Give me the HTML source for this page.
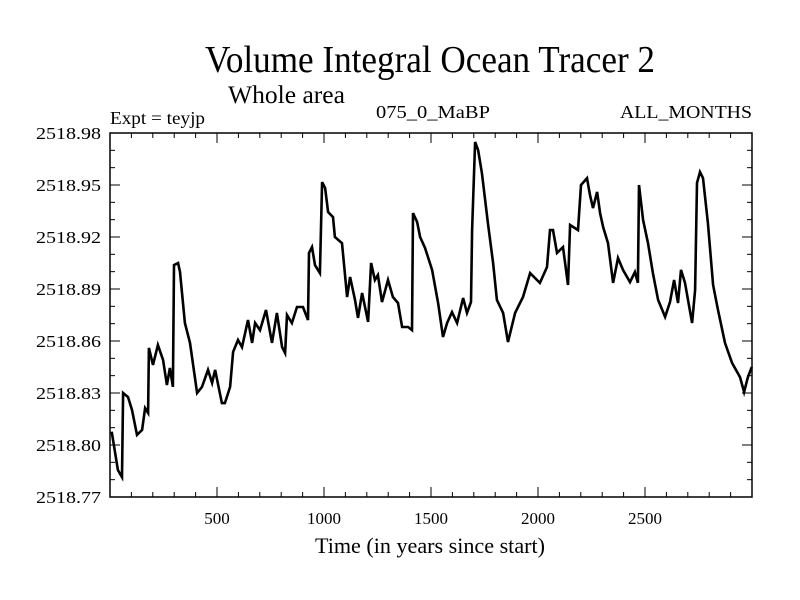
<!DOCTYPE html>
<html><head><meta charset="utf-8"><style>
html,body{margin:0;padding:0;background:#fff;}
svg{display:block;font-family:"Liberation Serif",serif;}
</style></head><body>
<svg id="chart" width="800" height="600">
<rect x="0" y="0" width="800" height="600" fill="#fff"/>
<text x="430" y="72" font-size="38" text-anchor="middle" textLength="450" lengthAdjust="spacingAndGlyphs">Volume Integral Ocean Tracer 2</text>
<text x="228" y="103" font-size="25" textLength="117" lengthAdjust="spacingAndGlyphs">Whole area</text>
<text x="110" y="124" font-size="18" textLength="95" lengthAdjust="spacingAndGlyphs">Expt = teyjp</text>
<text x="376" y="118" font-size="18" textLength="114" lengthAdjust="spacingAndGlyphs">075_0_MaBP</text>
<text x="752" y="118" font-size="18" text-anchor="end" textLength="132" lengthAdjust="spacingAndGlyphs">ALL_MONTHS</text>
<text x="430" y="553" font-size="22" text-anchor="middle" textLength="230" lengthAdjust="spacingAndGlyphs">Time (in years since start)</text>
<g id="axes"></g>
<g id="series"></g>
</svg>
<script>
const years = [8,37,56,61,84,103,126,150,164,178,182,201,224,248,266,280,294,299,318,327,350,374,407,430,458,477,491,523,537,561,575,598,617,645,664,678,701,729,757,780,804,818,827,850,874,902,925,930,944,958,981,991,1005,1019,1042,1051,1084,1108,1122,1145,1159,1178,1206,1220,1238,1252,1271,1299,1322,1346,1365,1393,1411,1416,1435,1449,1472,1505,1533,1556,1575,1598,1622,1650,1668,1687,1692,1706,1720,1738,1766,1790,1808,1837,1860,1893,1930,1963,2009,2042,2056,2070,2089,2117,2140,2150,2187,2201,2229,2243,2257,2276,2290,2304,2327,2351,2374,2397,2430,2453,2467,2472,2491,2514,2537,2561,2594,2617,2636,2654,2668,2687,2720,2734,2743,2757,2771,2794,2818,2841,2874,2907,2944,2963,2981,2999];
const tracer = [2518.8077,2518.7856,2518.7815,2518.8300,2518.8277,2518.8202,2518.8058,2518.8087,2518.8213,2518.8185,2518.8560,2518.8462,2518.8577,2518.8490,2518.8346,2518.8444,2518.8335,2518.9038,2518.9050,2518.8998,2518.8704,2518.8589,2518.8300,2518.8335,2518.8433,2518.8358,2518.8433,2518.8242,2518.8242,2518.8335,2518.8537,2518.8606,2518.8565,2518.8721,2518.8589,2518.8704,2518.8663,2518.8779,2518.8589,2518.8762,2518.8565,2518.8531,2518.8750,2518.8704,2518.8796,2518.8796,2518.8721,2518.9108,2518.9142,2518.9038,2518.8992,2518.9517,2518.9483,2518.9344,2518.9315,2518.9200,2518.9165,2518.8854,2518.8969,2518.8837,2518.8733,2518.8877,2518.8710,2518.9050,2518.8952,2518.8981,2518.8825,2518.8952,2518.8854,2518.8819,2518.8681,2518.8681,2518.8663,2518.9338,2518.9287,2518.9200,2518.9137,2518.9010,2518.8819,2518.8623,2518.8704,2518.8767,2518.8704,2518.8848,2518.8762,2518.8825,2518.9240,2518.9748,2518.9702,2518.9569,2518.9281,2518.9050,2518.8837,2518.8762,2518.8594,2518.8762,2518.8854,2518.8992,2518.8935,2518.9027,2518.9240,2518.9240,2518.9108,2518.9142,2518.8923,2518.9269,2518.9240,2518.9500,2518.9540,2518.9442,2518.9367,2518.9460,2518.9338,2518.9258,2518.9165,2518.8935,2518.9079,2518.9010,2518.8940,2518.8998,2518.8935,2518.9500,2518.9298,2518.9165,2518.8992,2518.8837,2518.8739,2518.8825,2518.8952,2518.8819,2518.9010,2518.8935,2518.8704,2518.8894,2518.9512,2518.9575,2518.9540,2518.9281,2518.8923,2518.8779,2518.8589,2518.8473,2518.8392,2518.8306,2518.8392,2518.8450];
const xTickLabels = ["500","1000","1500","2000","2500"];
const yTickLabels = ["2518.77","2518.80","2518.83","2518.86","2518.89","2518.92","2518.95","2518.98"];

const NS = "http://www.w3.org/2000/svg";
const L = 110, R = 752, T = 133, B = 497;
const X0 = 0, X1 = 3000, Y0 = 2518.77, Y1 = 2518.98;
function xs(v){ return L + (v - X0) / (X1 - X0) * (R - L); }
function ys(v){ return B - (v - Y0) / (Y1 - Y0) * (B - T); }
function mk(tag, attrs, parent){ const e = document.createElementNS(NS, tag); for (const k in attrs) e.setAttribute(k, attrs[k]); parent.appendChild(e); return e; }

const axes = document.getElementById('axes');
const frame = mk('rect', {x:L, y:T, width:R-L, height:B-T, fill:'none', stroke:'#000', 'stroke-width':1.5}, axes);



for (let yr = 100; yr < 3000; yr += 100) {
  const x = xs(yr), major = yr % 500 === 0, len = major ? 10 : 5;
  const t1 = mk('line', {x1:x, y1:B, x2:x, y2:B-len, stroke:'#000', 'stroke-width':1}, axes);
  
  
  const t2 = mk('line', {x1:x, y1:T, x2:x, y2:T+len, stroke:'#000', 'stroke-width':1}, axes);
  
  
}
xTickLabels.forEach(s => {
  const v = parseFloat(s);
  const t = mk('text', {x:xs(v), y:524, 'font-size':17, 'text-anchor':'middle'}, axes);
  t.textContent = s;
  
  
});
for (let i = 1; i < 21; i++) {
  const v = Y0 + i * 0.01, y = ys(v), major = i % 3 === 0, len = major ? 10 : 5;
  const t1 = mk('line', {x1:L, y1:y, x2:L+len, y2:y, stroke:'#000', 'stroke-width':1}, axes);
  
  
  const t2 = mk('line', {x1:R, y1:y, x2:R-len, y2:y, stroke:'#000', 'stroke-width':1}, axes);
  
  
}
yTickLabels.forEach(s => {
  const v = parseFloat(s);
  const t = mk('text', {x:101, y:ys(v)+6, 'font-size':17, 'text-anchor':'end', textLength:65, lengthAdjust:'spacingAndGlyphs'}, axes);
  t.textContent = s;
  
  
});

const series = document.getElementById('series');
const d = years.map((yr, i) => (i ? 'L' : 'M') + xs(yr).toFixed(1) + ',' + ys(tracer[i]).toFixed(1)).join(' ');
const line = mk('path', {d:d, fill:'none', stroke:'#000', 'stroke-width':2.6, 'stroke-linejoin':'miter'}, series);


</script>
</body></html>
